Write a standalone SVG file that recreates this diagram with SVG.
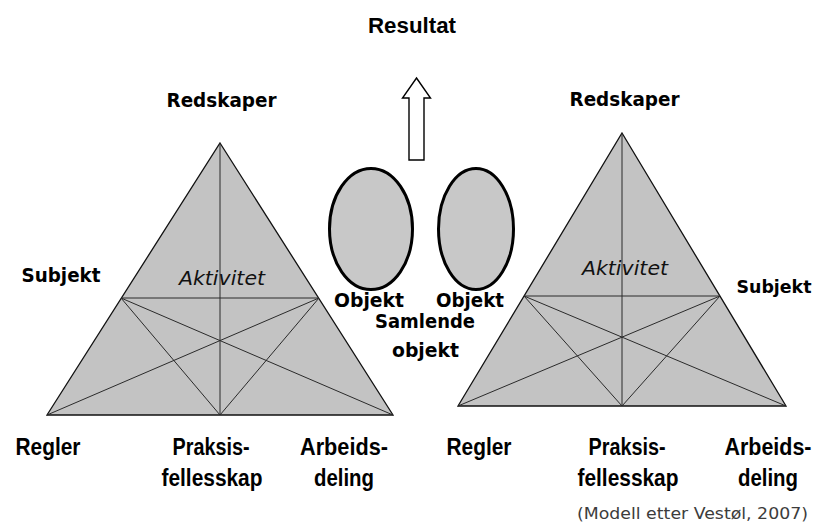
<svg xmlns="http://www.w3.org/2000/svg" width="817" height="528" viewBox="0 0 817 528">
  <style>
    .tri { fill: #c3c3c3; stroke: #111; stroke-width: 1.3; stroke-linejoin: miter; }
    .inner { stroke: #2a2a2a; stroke-width: 1; fill: none; }
    .obj { fill: #c8c8c8; stroke: #000; stroke-width: 3; }
    .arrow { fill: #fff; stroke: #000; stroke-width: 1.4; }
    .lbl { font-family: "DejaVu Sans", Verdana, sans-serif; font-weight: bold; font-size: 20px; fill: #000; text-anchor: middle; }
    .ital { font-family: "DejaVu Sans", Verdana, sans-serif; font-style: italic; font-size: 20px; fill: #111; text-anchor: middle; }
    .low { font-family: "Liberation Sans", Arial, sans-serif; font-weight: bold; font-size: 23px; fill: #000; text-anchor: middle; }
    .title { font-family: "Liberation Sans", Arial, sans-serif; font-weight: bold; font-size: 22px; fill: #000; text-anchor: middle; }
    .note { font-family: "DejaVu Sans", Verdana, sans-serif; font-size: 15px; fill: #3c3c3c; }
  </style>

  <rect width="817" height="528" fill="#fff"/>

  <!-- Left activity triangle -->
  <g id="activity-left">
    <polygon class="tri" points="220,143 393,415 47,415"/>
    <line class="inner" x1="220" y1="143" x2="220" y2="415"/>
    <line class="inner" x1="121" y1="298" x2="319" y2="298"/>
    <line class="inner" x1="121" y1="298" x2="393" y2="415"/>
    <line class="inner" x1="319" y1="298" x2="47" y2="415"/>
    <line class="inner" x1="121" y1="298" x2="220" y2="415"/>
    <line class="inner" x1="319" y1="298" x2="220" y2="415"/>
    <text class="ital" x="222" y="285" textLength="86" lengthAdjust="spacingAndGlyphs">Aktivitet</text>
  </g>

  <!-- Right activity triangle -->
  <g id="activity-right">
    <polygon class="tri" points="622,133 786,406 458,406"/>
    <line class="inner" x1="622" y1="133" x2="622" y2="406"/>
    <line class="inner" x1="524" y1="296" x2="720" y2="296"/>
    <line class="inner" x1="524" y1="296" x2="786" y2="406"/>
    <line class="inner" x1="720" y1="296" x2="458" y2="406"/>
    <line class="inner" x1="524" y1="296" x2="622" y2="406"/>
    <line class="inner" x1="720" y1="296" x2="622" y2="406"/>
    <text class="ital" x="625" y="275" textLength="86" lengthAdjust="spacingAndGlyphs">Aktivitet</text>
  </g>

  <!-- Objects -->
  <g id="object-left">
    <ellipse class="obj" cx="371" cy="229" rx="41.5" ry="60.5"/>
    <text class="lbl" x="369" y="307" textLength="70" lengthAdjust="spacingAndGlyphs">Objekt</text>
  </g>
  <g id="object-right">
    <ellipse class="obj" cx="476" cy="229" rx="37.5" ry="60.5"/>
    <text class="lbl" x="470" y="307" textLength="68" lengthAdjust="spacingAndGlyphs">Objekt</text>
  </g>
  <g id="shared-object">
    <text class="lbl" x="425" y="328" textLength="100" lengthAdjust="spacingAndGlyphs">Samlende</text>
    <text class="lbl" x="425.5" y="357" textLength="67" lengthAdjust="spacingAndGlyphs">objekt</text>
  </g>

  <!-- Outcome arrow -->
  <g id="connectors">
    <polygon class="arrow" points="416.5,78 430.5,98 424,98 424,160 409,160 409,98 402.5,98"/>
  </g>
  <g id="result">
    <text class="title" x="412" y="33" textLength="88" lengthAdjust="spacingAndGlyphs">Resultat</text>
  </g>

  <!-- Corner labels, left system -->
  <g id="labels-left">
    <text class="lbl" x="221.5" y="107" textLength="110" lengthAdjust="spacingAndGlyphs">Redskaper</text>
    <text class="lbl" x="61" y="282" textLength="79" lengthAdjust="spacingAndGlyphs">Subjekt</text>
    <text class="low" x="48" y="455" textLength="65" lengthAdjust="spacingAndGlyphs">Regler</text>
    <text class="low" x="211" y="455" textLength="77" lengthAdjust="spacingAndGlyphs">Praksis-</text>
    <text class="low" x="212" y="486" textLength="101" lengthAdjust="spacingAndGlyphs">fellesskap</text>
    <text class="low" x="344" y="455" textLength="88" lengthAdjust="spacingAndGlyphs">Arbeids-</text>
    <text class="low" x="344" y="486" textLength="60" lengthAdjust="spacingAndGlyphs">deling</text>
  </g>

  <!-- Corner labels, right system -->
  <g id="labels-right">
    <text class="lbl" x="624.5" y="106" textLength="110" lengthAdjust="spacingAndGlyphs">Redskaper</text>
    <text class="lbl" x="774" y="293" style="font-size:18.5px" textLength="75" lengthAdjust="spacingAndGlyphs">Subjekt</text>
    <text class="low" x="479" y="455" textLength="65" lengthAdjust="spacingAndGlyphs">Regler</text>
    <text class="low" x="627" y="455" textLength="77" lengthAdjust="spacingAndGlyphs">Praksis-</text>
    <text class="low" x="628" y="486" textLength="101" lengthAdjust="spacingAndGlyphs">fellesskap</text>
    <text class="low" x="768" y="455" textLength="87" lengthAdjust="spacingAndGlyphs">Arbeids-</text>
    <text class="low" x="768" y="486" textLength="60" lengthAdjust="spacingAndGlyphs">deling</text>
  </g>

  <g id="source">
    <text class="note" x="577" y="519" textLength="231" lengthAdjust="spacingAndGlyphs">(Modell etter Vestøl, 2007)</text>
  </g>
</svg>
